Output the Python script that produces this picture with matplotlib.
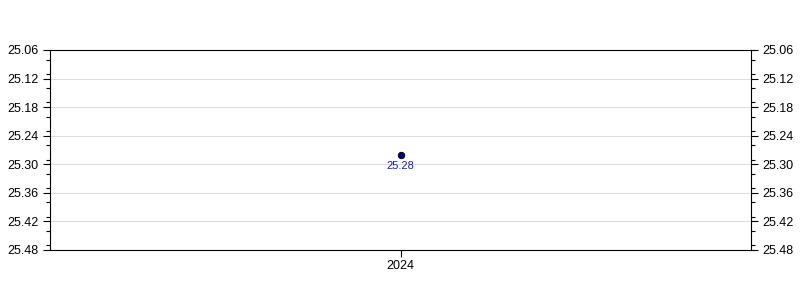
import matplotlib
matplotlib.use("Agg")
import matplotlib.pyplot as plt
from matplotlib.ticker import MultipleLocator, FormatStrFormatter

categories = ["2024"]
values = [25.28]
y_ticks = [25.06, 25.12, 25.18, 25.24, 25.30, 25.36, 25.42, 25.48]

plt.rcParams['font.family'] = ['Liberation Sans', 'DejaVu Sans']

fig = plt.figure(figsize=(8, 3), dpi=100)
ax = fig.add_axes([50/800, 50/300, 701/800, 200/300])

x = list(range(len(categories)))
ax.scatter(x, values, s=22, color='#000080', edgecolors='black', linewidths=0.6, zorder=3)
for xi, v in zip(x, values):
    ax.annotate(f"{v:.2f}", (xi, v), xytext=(0, -8.2), textcoords='offset points',
                ha='center', va='center', fontsize=8, color='#1a1acc')

ax.set_xlim(-0.5, 0.5)
ax.set_xticks(x)
ax.set_xticklabels(categories, fontsize=9)
ax.set_ylim(y_ticks[-1], y_ticks[0])
ax.set_yticks(y_ticks)
ax.yaxis.set_major_formatter(FormatStrFormatter('%.2f'))
ax.yaxis.set_minor_locator(MultipleLocator(0.03))
ax.tick_params(axis='y', which='major', labelsize=9, length=5, width=0.8, pad=3,
               left=True, right=True, labelleft=True, labelright=True)
ax.tick_params(axis='y', which='minor', length=3, width=0.8, left=True, right=True)
ax.tick_params(axis='x', which='major', length=5, width=0.8, pad=2.5)
ax.grid(axis='y', which='major', color='#dddddd', linewidth=0.8)
ax.set_axisbelow(True)
for s in ax.spines.values():
    s.set_linewidth(0.8)

fig.savefig("out.png", dpi=100)
